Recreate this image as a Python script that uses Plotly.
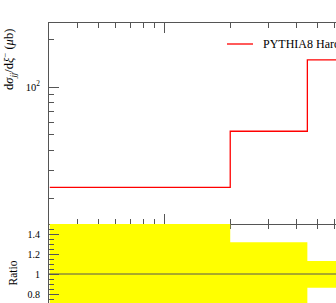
import math
import plotly.graph_objects as go

# ---- data ----
bin_edges = [0.003, 0.02, 0.045, 0.1]
mc_values = [23.4, 52.7, 148.0]
band_hi = [1.6, 1.317, 1.13]
band_lo = [0.4, 0.683, 0.863]

x_major = [0.01]
x_minor = [0.004, 0.005, 0.006, 0.007, 0.008, 0.009, 0.02, 0.03, 0.04, 0.05, 0.06]
y_major = [100]
y_major_text = ["10<sup>2</sup>"]
y_minor = [20, 30, 40, 50, 60, 70, 80, 90, 200]
r_major = [0.8, 1.0, 1.2, 1.4]
r_major_text = ["0.8", "1", "1.2", "1.4"]
r_minor = [0.75, 0.85, 0.9, 0.95, 1.05, 1.1, 1.15, 1.25, 1.3, 1.35, 1.45]

legend_label = "PYTHIA8 Hard QCD"

FONT = "Liberation Serif"
AX = "#555555"

fig = go.Figure()

# main step line
fig.add_trace(go.Scatter(
    x=bin_edges, y=mc_values + [mc_values[-1]], mode="lines",
    line=dict(color="red", width=1.3, shape="hv"),
    xaxis="x", yaxis="y", showlegend=False, hoverinfo="skip"))

# ratio band
bx, by = [], []
for i in range(len(mc_values)):
    bx += [bin_edges[i], bin_edges[i + 1]]
    by += [band_hi[i], band_hi[i]]
for i in reversed(range(len(mc_values))):
    bx += [bin_edges[i + 1], bin_edges[i]]
    by += [band_lo[i], band_lo[i]]
fig.add_trace(go.Scatter(
    x=bx, y=by, mode="lines", fill="toself", fillcolor="#ffff00",
    line=dict(width=0, color="#ffff00"),
    xaxis="x2", yaxis="y2", showlegend=False, hoverinfo="skip"))

split = 79 / 280
xr = [-2.5265, -1.216]

fig.update_layout(
    width=336, height=303,
    margin=dict(l=49, r=0, t=23, b=0),
    paper_bgcolor="white", plot_bgcolor="rgba(0,0,0,0)",
    font=dict(family=FONT, size=10, color="black"),
    showlegend=False,
    xaxis=dict(
        type="log", range=xr, domain=[0, 1], anchor="y",
        showline=True, linecolor=AX, linewidth=1, mirror="ticks",
        ticks="inside", ticklen=10, tickcolor=AX, tickwidth=1,
        tickmode="array", tickvals=x_major, showticklabels=False,
        minor=dict(tickmode="array", tickvals=x_minor, ticks="inside",
                   ticklen=5, tickcolor=AX, tickwidth=1),
        showgrid=False, zeroline=False),
    yaxis=dict(
        type="log", range=[1.1384, 2.4025], domain=[split, 1], anchor="x",
        showline=True, linecolor=AX, linewidth=1,
        ticks="inside", ticklen=10, tickcolor=AX, tickwidth=1,
        tickmode="array", tickvals=y_major, ticktext=y_major_text,
        ticklabelstandoff=6,
        tickfont=dict(family=FONT, size=10.5),
        minor=dict(tickmode="array", tickvals=y_minor, ticks="inside",
                   ticklen=5, tickcolor=AX, tickwidth=1),
        showgrid=False, zeroline=False),
    xaxis2=dict(
        type="log", range=xr, domain=[0, 1], anchor="y2", side="top",
        showline=False, layer="below traces",
        ticks="inside", ticklen=10, tickcolor=AX, tickwidth=1,
        tickmode="array", tickvals=x_major, showticklabels=False,
        minor=dict(tickmode="array", tickvals=x_minor, ticks="inside",
                   ticklen=5, tickcolor=AX, tickwidth=1),
        showgrid=False, zeroline=False),
    yaxis2=dict(
        range=[0.71, 1.5], domain=[0, split], anchor="x2",
        showline=True, linecolor=AX, linewidth=1,
        ticks="inside", ticklen=10, tickcolor=AX, tickwidth=1,
        tickmode="array", tickvals=r_major, ticktext=r_major_text,
        ticklabelstandoff=6,
        tickfont=dict(family=FONT, size=10),
        minor=dict(tickmode="array", tickvals=r_minor, ticks="inside",
                   ticklen=5, tickcolor=AX, tickwidth=1),
        showgrid=False, zeroline=False),
)

# reference line at ratio 1
fig.add_shape(type="line", xref="paper", x0=0, x1=1, yref="y2", y0=1, y1=1,
              line=dict(color=AX, width=1), layer="above")

# legend (line sample + label)
fig.add_shape(type="line", xref="paper", yref="paper",
              x0=(227 - 49) / 287, x1=(253 - 49) / 287,
              y0=(303 - 44) / 280, y1=(303 - 44) / 280,
              line=dict(color="red", width=1.3))
fig.add_annotation(text=legend_label, xref="paper", yref="paper",
                   x=(261 - 49) / 287, y=(303 - 44) / 280,
                   xanchor="left", yanchor="middle", showarrow=False,
                   font=dict(family=FONT, size=12))

# axis titles
fig.add_annotation(text="d<i>σ</i><sub><i>jj</i></sub>/d<i>ξ</i><sup>−</sup> (<i>μ</i>b)",
                   xref="paper", yref="paper",
                   x=(9 - 49) / 287, y=(303 - 60) / 280,
                   xanchor="center", yanchor="middle", textangle=-90,
                   showarrow=False, font=dict(family=FONT, size=12.5))
fig.add_annotation(text="Ratio", xref="paper", yref="paper",
                   x=(12 - 49) / 287, y=(303 - 273.5) / 280,
                   xanchor="center", yanchor="middle", textangle=-90,
                   showarrow=False, font=dict(family=FONT, size=11.5))

fig.write_html("out.html")
